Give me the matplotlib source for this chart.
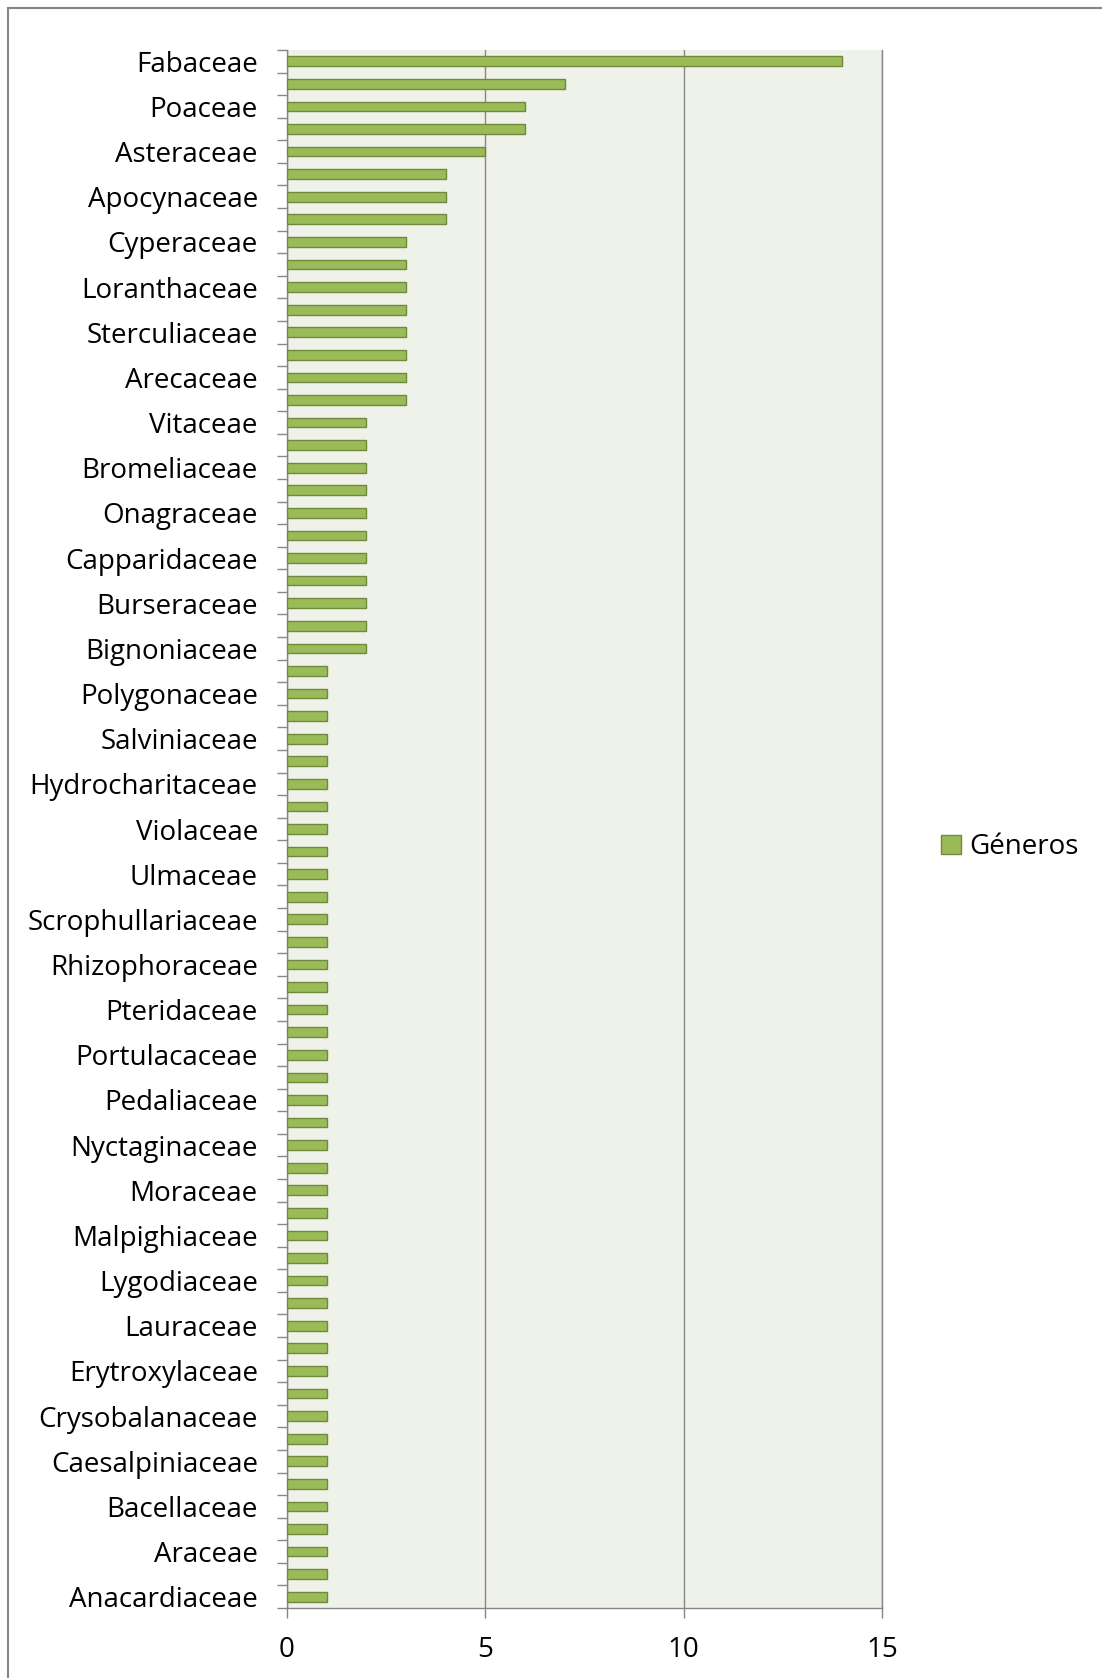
import matplotlib
matplotlib.use('Agg')
import matplotlib.pyplot as plt
from matplotlib.patches import Rectangle
import numpy as np

# visible family labels (every other category is labelled in the original)
familias = ['Fabaceae', 'Poaceae', 'Asteraceae', 'Apocynaceae', 'Cyperaceae',
            'Loranthaceae', 'Sterculiaceae', 'Arecaceae', 'Vitaceae',
            'Bromeliaceae', 'Onagraceae', 'Capparidaceae', 'Burseraceae',
            'Bignoniaceae', 'Polygonaceae', 'Salviniaceae', 'Hydrocharitaceae',
            'Violaceae', 'Ulmaceae', 'Scrophullariaceae', 'Rhizophoraceae',
            'Pteridaceae', 'Portulacaceae', 'Pedaliaceae', 'Nyctaginaceae',
            'Moraceae', 'Malpighiaceae', 'Lygodiaceae', 'Lauraceae',
            'Erytroxylaceae', 'Crysobalanaceae', 'Caesalpiniaceae',
            'Bacellaceae', 'Araceae', 'Anacardiaceae']

# number of genera per family, top to bottom (69 bars)
generos = ([14, 7, 6, 6, 5, 4, 4, 4]
           + [3] * 8
           + [2] * 11
           + [1] * 42)

xticks = [0, 5, 10, 15]

plt.rcParams['font.family'] = ['Open Sans', 'DejaVu Sans']

W, H = 1102, 1678
fig = plt.figure(figsize=(W / 100, H / 100), dpi=100)
ax = fig.add_axes([287 / W, 1 - 1608 / H, (882 - 287) / W, (1608 - 50) / H])

grey = '#868686'
n = len(generos)
y = np.arange(n)
ax.barh(y, generos, height=0.43, color='#9BBB59', edgecolor='#71893F',
        linewidth=1.0, label='Géneros', zorder=3)

ax.set_facecolor('#EFF2E9')
ax.set_xlim(0, 15)
ax.set_ylim(n - 0.5, -0.5)
ax.set_xticks(xticks)
ax.xaxis.grid(True, color=grey, lw=1.0, zorder=0)

ax.set_yticks(y[::2])
ax.set_yticklabels(familias, fontsize=20)
ax.set_yticks(np.arange(n + 1) - 0.5, minor=True)
ax.tick_params(axis='y', which='major', length=0, pad=21)
ax.tick_params(axis='y', which='minor', length=7, width=1, color=grey)
ax.tick_params(axis='x', length=7, width=1, color=grey, pad=13, labelsize=20)

ax.spines['top'].set_visible(False)
for s in ['left', 'bottom', 'right']:
    ax.spines[s].set_color(grey)
    ax.spines[s].set_linewidth(1.0)

fig.legend(loc='center left', bbox_to_anchor=(930 / W, 1 - 847 / H),
           frameon=False, fontsize=20, handlelength=0.7, handleheight=0.7,
           handletextpad=0.3, borderaxespad=0)

# outer chart border (cropped at right and bottom in the original)
fig.patches.append(Rectangle((8 / W, -0.1), 1.2, 1 - 8 / H + 0.1,
                             transform=fig.transFigure, fill=False,
                             edgecolor=grey, lw=1.5))

fig.savefig('out.png', dpi=100)
